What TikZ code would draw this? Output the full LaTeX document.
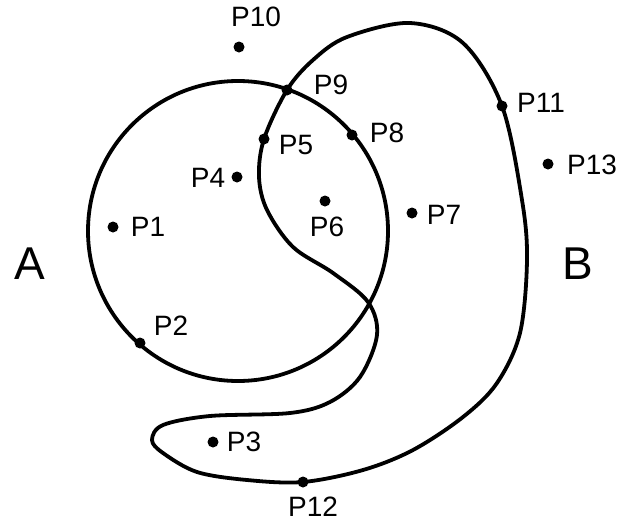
\documentclass[tikz,border=0pt]{standalone}
\usepackage{fontspec}
\setmainfont{Liberation Sans}
\begin{document}
\begin{tikzpicture}[x=1pt,y=-1pt,
  curve/.style={line width=3.8pt, line join=round},
  dot/.style={circle, fill=black, inner sep=0pt, minimum size=11pt},
  lbl/.style={inner sep=0pt, font=\fontsize{28}{28}\selectfont},
  big/.style={inner sep=0pt, font=\fontsize{46}{46}\selectfont}]
\useasboundingbox (0,0) rectangle (632,525);
% set A
\draw[curve] (238,231) circle (150pt);
% set B
\draw[curve] plot[smooth cycle, tension=0.55] coordinates {
 (287,90) (313,60) (347,37) (410,23) (463,43) (502,106) (522,200) (527,260)
 (520,333) (497,383) (463,417) (413,450) (363,470) (303,482) (247,480)
 (197,472) (163,453) (152,440) (163,425) (210,416) (290,413) (330,402)
 (360,377) (377,335) (368,302) (333,273) (293,247) (267,210) (259,177) (264,139)};
% points
\node[dot] (p1) at (113,227) {};
\node[dot] (p2) at (140,343) {};
\node[dot] (p3) at (213,442) {};
\node[dot] (p4) at (237,177) {};
\node[dot] (p5) at (264,139) {};
\node[dot] (p6) at (325,201) {};
\node[dot] (p7) at (412,213) {};
\node[dot] (p8) at (352,135) {};
\node[dot] (p9) at (287,90) {};
\node[dot] (p10) at (239,47) {};
\node[dot] (p11) at (502,106) {};
\node[dot] (p12) at (303,482) {};
\node[dot] (p13) at (548,164) {};
% labels
\node[lbl] (l1) at (148,227) {P1};
\node[lbl] (l2) at (171,326) {P2};
\node[lbl] (l3) at (244,442) {P3};
\node[lbl] (l4) at (208,178) {P4};
\node[lbl] (l5) at (296,145) {P5};
\node[lbl] (l6) at (327,227) {P6};
\node[lbl] (l7) at (444,215) {P7};
\node[lbl] (l8) at (387,133) {P8};
\node[lbl] (l9) at (331,85) {P9};
\node[lbl] (l10) at (256,17) {P10};
\node[lbl] (l11) at (541,103) {P11};
\node[lbl] (l12) at (313,507) {P12};
\node[lbl] (l13) at (592,165) {P13};
\node[big] (A) at (30,264) {A};
\node[big] (B) at (578,264) {B};
\end{tikzpicture}
\end{document}
